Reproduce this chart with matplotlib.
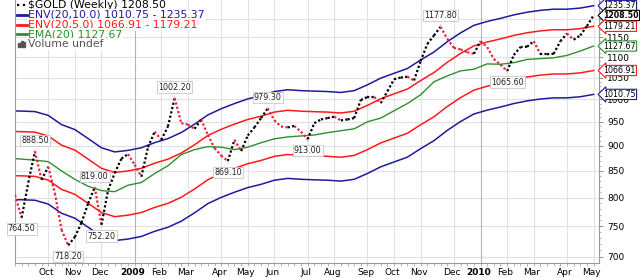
import numpy as np
import matplotlib
matplotlib.use("Agg")
import matplotlib.pyplot as plt
import matplotlib.dates as mdates
from matplotlib.lines import Line2D
from matplotlib.patches import Rectangle
from matplotlib.ticker import NullFormatter, FixedLocator

# weekly closes of $GOLD, Fridays from 2008-09-05 to 2010-05-07
start = np.datetime64("2008-09-05")
gold_close = [805, 764.5, 828, 888.5, 833, 858, 808, 744, 718.2, 732,
              756, 790, 819.0, 752.2, 814, 846, 874, 883, 862, 839,
              897, 929, 912, 940, 1002.2, 947, 944, 935, 955, 922,
              895, 880, 869.1, 912, 889, 921, 938, 958, 979.3, 953,
              940, 938, 941, 929, 913, 947, 955, 958, 961, 953,
              955, 958, 998, 1005, 1005, 991, 1018, 1046, 1050, 1052,
              1043, 1090, 1133, 1155, 1177.8, 1146, 1123, 1119, 1112, 1108,
              1140, 1125, 1095, 1081, 1065.6, 1105, 1125, 1126, 1140, 1107,
              1107, 1108, 1140, 1160, 1144, 1155, 1180, 1208.5]

# indicator readings (week numbers from start)
ind_weeks = [0] + list(range(1, 88, 2))
env_mid = [885, 884.8, 883.8, 876.2, 858.1, 848.6, 831.4, 814.3, 806.7, 809.5,
           814.3, 823.8, 831.4, 842.9, 859.0, 877.1, 889.5, 900.0, 909.5, 916.2,
           924.8, 928.6, 926.7, 925.7, 924.8, 922.9, 926.7, 939.0, 953.3, 963.8,
           974.3, 993.3, 1011.4, 1035.2, 1056.2, 1074.3, 1083.8, 1091.4, 1100.0, 1106.7,
           1111.4, 1114.3, 1114.3, 1117.1, 1123.06]
ema20 = [874, 873, 871, 868, 850, 834, 821, 813, 811, 823,
         828, 845, 860, 882, 892, 898, 897, 892, 897, 906,
         914, 918, 920, 922, 927, 931, 935, 950, 958, 974,
         990, 1010, 1040, 1054, 1066, 1070, 1083, 1082, 1086, 1094,
         1096, 1098, 1104, 1115, 1127.67]

# labelled highs / lows: (week, above?)
peaks = [(1, False), (3, True), (8, False), (12, True), (13, False), (24, True),
         (32, False), (38, True), (44, False), (64, True), (74, False)]

month_dates = ["2008-10-10", "2008-11-07", "2008-12-05", "2009-01-09", "2009-02-06",
               "2009-03-06", "2009-04-10", "2009-05-08", "2009-06-05", "2009-07-10",
               "2009-08-07", "2009-09-11", "2009-10-09", "2009-11-06", "2009-12-11",
               "2010-01-08", "2010-02-05", "2010-03-05", "2010-04-09", "2010-05-07"]
month_labels = ["Oct", "Nov", "Dec", "2009", "Feb", "Mar", "Apr", "May", "Jun", "Jul",
                "Aug", "Sep", "Oct", "Nov", "Dec", "2010", "Feb", "Mar", "Apr", "May"]

BLUE = "#1c1c9c"
RED = "#ff1a1a"
GREEN = "#2f8f2f"
DOWN = "#e8203c"

dates = mdates.date2num((start + 7 * np.arange(len(gold_close))).astype("datetime64[D]").astype(object))
ind_dates = dates[ind_weeks]
mid = np.array(env_mid)

fig = plt.figure(figsize=(6.4, 2.78), dpi=100)
ax = fig.add_axes([15 / 640, 15 / 278, 584 / 640, 263 / 278])
ax.set_yscale("log")
ax.set_ylim(690.1, 1251.5)
ax.set_xlim(dates[0] + 4.6, dates[-1] + 5.7)

# grid
yt = list(range(700, 1201, 50))
ax.yaxis.set_major_locator(FixedLocator(yt))
ax.yaxis.set_minor_locator(FixedLocator(range(690, 1251, 10)))
ax.yaxis.set_major_formatter(matplotlib.ticker.FixedFormatter([str(v) for v in yt]))
ax.yaxis.set_minor_formatter(NullFormatter())
for v in yt:
    ax.axhline(v, color="#e2e2e2", lw=0.8, zorder=0)
mticks = mdates.date2num([np.datetime64(d).astype(object) for d in month_dates])
for t, lab in zip(mticks, month_labels):
    ax.axvline(t, color="#b4b4b4" if lab.isdigit() else "#e2e2e2", lw=0.8, zorder=0)
ax.set_xticks(mticks - 2)
ax.set_xticklabels(month_labels)
ax.set_xticks(dates, minor=True)
for lab in ax.get_xticklabels():
    if lab.get_text().isdigit():
        lab.set_fontweight("bold")
        lab.set_fontsize(7)
ax.yaxis.tick_right()
ax.tick_params(axis="x", which="major", length=0, labelsize=6.5, pad=3.5)
ax.tick_params(axis="x", which="minor", length=2, color="#aaaaaa")
ax.tick_params(axis="y", which="major", length=3, color="#999999", labelsize=6.5, pad=3)
ax.tick_params(axis="y", which="minor", length=1.5, color="#aaaaaa")
ax.spines["top"].set_visible(False)
for s in ["left", "bottom", "right"]:
    ax.spines[s].set_color("#999999")
    ax.spines[s].set_linewidth(0.8)

# envelopes and EMA
ax.plot(ind_dates, mid * 1.10, color=BLUE, lw=1.1)
ax.plot(ind_dates, mid * 0.90, color=BLUE, lw=1.1)
ax.plot(ind_dates, mid * 1.05, color=RED, lw=1.1)
ax.plot(ind_dates, mid * 0.95, color=RED, lw=1.1)
ax.plot(ind_dates, ema20, color=GREEN, lw=1.0)

# dotted price line, black up / red down
for i in range(len(gold_close) - 1):
    c = "black" if gold_close[i + 1] >= gold_close[i] else DOWN
    ax.plot(dates[i:i + 2], gold_close[i:i + 2], color=c, lw=1.6,
            ls=(0, (1, 1)), dash_capstyle="butt", zorder=3)

for w, up in peaks:
    v = gold_close[w]
    ax.annotate(f"{v:.2f}", xy=(dates[w], v), xytext=(0, 8 if up else -8),
                textcoords="offset points", ha="center", va="center", fontsize=5.8,
                color="#222222", annotation_clip=False, zorder=6,
                bbox=dict(boxstyle="square,pad=0.15", fc="white", ec="#c8c8c8", lw=0.6),
                arrowprops=dict(arrowstyle="-", color="#c8c8c8", lw=0.6))

# last-value tags on the right
tags = [(mid[-1] * 1.10, BLUE, False), (gold_close[-1], "black", True),
        (mid[-1] * 1.05, RED, False), (ema20[-1], GREEN, False),
        (mid[-1] * 0.95, RED, False), (mid[-1] * 0.90, BLUE, False)]
for v, c, b in tags:
    ax.annotate(f"{v:.2f}", xy=(1, v), xycoords=ax.get_yaxis_transform(),
                xytext=(3.2, 0), textcoords="offset points", va="center", ha="left",
                fontsize=5.7, fontweight="bold" if b else "normal", color="black",
                annotation_clip=False, zorder=10,
                bbox=dict(boxstyle="larrow,pad=0.08", fc="white", ec=c, lw=0.8))

# legend block
legend = [("$GOLD (Weekly) 1208.50", "black", ":"),
          ("ENV(20,10.0) 1010.75 - 1235.37", BLUE, "-"),
          ("ENV(20,5.0) 1066.91 - 1179.21", RED, "-"),
          ("EMA(20) 1127.67", GREEN, "-"),
          ("Volume undef", "#555555", None)]
for k, (txt, c, ls) in enumerate(legend):
    y = 1 - (5 + 9.8 * k) / 278
    fig.text(28 / 640, y, txt, color=c, fontsize=7.8, va="center", ha="left",
             bbox=dict(boxstyle="square,pad=0.1", fc="white", ec="none"), zorder=8)
    if ls is not None:
        fig.add_artist(Line2D([17 / 640, 27 / 640], [y, y], color=c,
                              lw=1.6 if ls == ":" else 2.0, ls=ls, zorder=9))
    else:
        for j, h in enumerate([4, 6, 5]):
            fig.add_artist(Rectangle(((18 + 2.6 * j) / 640, y - 3 / 278), 2 / 640, h / 278,
                                     color=c, zorder=9))

fig.savefig("out.png", dpi=100)
